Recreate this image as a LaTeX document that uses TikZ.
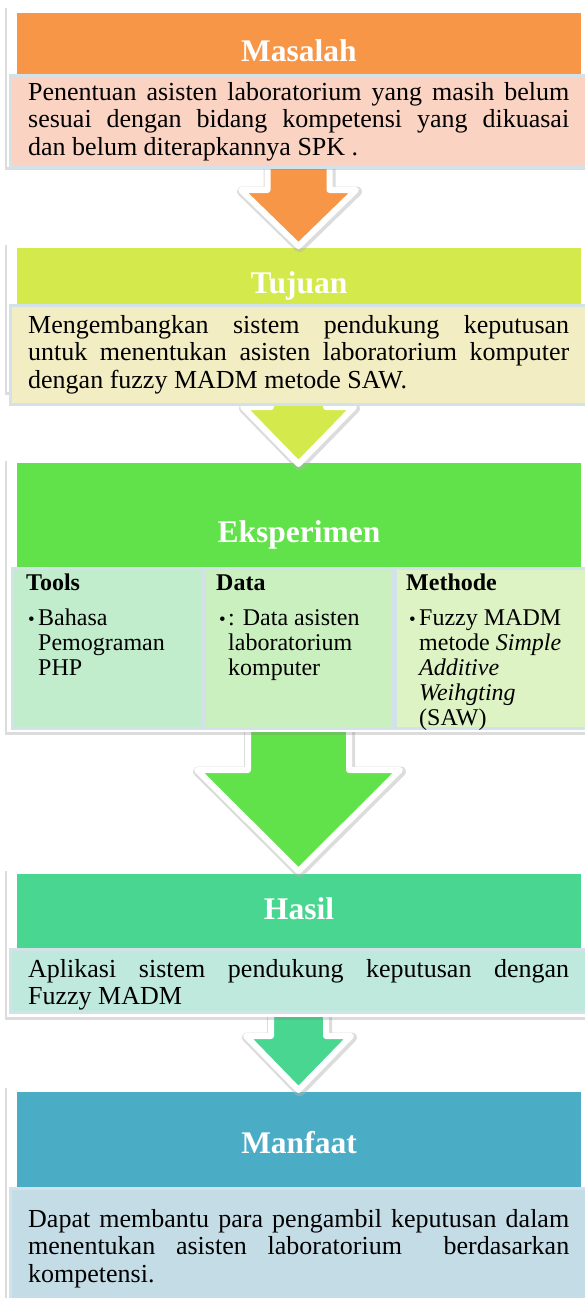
\documentclass[tikz,border=0pt]{standalone}
\usepackage{fontspec}
\setmainfont{Liberation Serif}
\usetikzlibrary{shadows}
\definecolor{hOrange}{HTML}{F79646}
\definecolor{hLime}{HTML}{D4EA4C}
\definecolor{hGreen}{HTML}{62E24A}
\definecolor{hTeal}{HTML}{48D690}
\definecolor{hBlue}{HTML}{4BACC6}
\definecolor{tSalmon}{HTML}{FAD3C3}
\definecolor{tCream}{HTML}{F3EDC4}
\definecolor{tMint}{HTML}{C2EDCC}
\definecolor{tPale}{HTML}{CBF0C0}
\definecolor{tLime}{HTML}{DDF3C4}
\definecolor{tAqua}{HTML}{C0E9DD}
\definecolor{tSky}{HTML}{C4DCE6}
\definecolor{boxline}{HTML}{D3E2E8}
\newcommand{\bul}{{\fontsize{19}{19}\selectfont •}}
\begin{document}
\begin{tikzpicture}[x=1pt,y=-1pt,
  frame/.style={fill=white,draw=none,inner sep=0,anchor=north west,
    drop shadow={shadow xshift=-2pt,shadow yshift=-3pt,opacity=0.28}},
  header/.style={draw=none,inner sep=0,anchor=north west,minimum width=564pt},
  tbox/.style={draw=boxline,line width=2.5pt,inner sep=0,anchor=north west},
  title/.style={anchor=base,text=white,inner sep=0,font=\fontsize{31.5}{36}\selectfont\bfseries},
  body/.style={anchor=north west,inner sep=0,text width=541pt,align=justify,font=\fontsize{26}{27.5}\selectfont},
  subhead/.style={anchor=north west,inner sep=0,align=left,font=\fontsize{24}{25}\selectfont\bfseries},
  subitem/.style={anchor=north west,inner sep=0,align=left,font=\fontsize{24}{25}\selectfont},
  barrow/.style={draw=white,line width=6pt,line join=round,
    preaction={draw=black!30,line width=10pt,line join=round,opacity=0.45,
      transform canvas={xshift=1pt,yshift=-1.5pt}}}
]
\useasboundingbox (0,0) rectangle (585,1298);

% ---------- Block 5: Manfaat ----------
\node[frame,minimum width=590pt,minimum height=220pt] (f5) at (7,1085) {};
\node[header,fill=hBlue,minimum height=95pt] (h5) at (17,1092) {};
\node[tbox,fill=tSky,minimum width=590pt,minimum height=115pt] (b5) at (9,1187) {};
\node[title] (m5) at (299,1153) {Manfaat};
\node[body] (x5) at (28,1207.75) {\strut\makebox[541pt][s]{Dapat membantu para pengambil keputusan dalam}\\
\makebox[541pt][s]{menentukan asisten laboratorium \ berdasarkan}\\
kompetensi.};

% arrow 4
\draw[barrow,fill=hTeal] (271,1010) -- (271,1036) -- (246,1036) -- (298.5,1090) -- (351,1036) -- (326,1036) -- (326,1010);

% ---------- Block 4: Hasil ----------
\node[frame,minimum width=590pt,minimum height=149pt] (f4) at (7,868) {};
\node[header,fill=hTeal,minimum height=74pt] (h4) at (17,874) {};
\node[tbox,fill=tAqua,minimum width=590pt,minimum height=63pt] (b4) at (9,948) {};
\node[title] (m4) at (299,919) {Hasil};
\node[body] (x4) at (28,957.75) {\strut\makebox[541pt][s]{Aplikasi sistem pendukung keputusan dengan}\\
Fuzzy MADM};

% arrow 3
\draw[barrow,fill=hGreen] (248,725) -- (248,770) -- (197,770) -- (298.5,871) -- (400,770) -- (349,770) -- (349,725);

% ---------- Block 3: Eksperimen ----------
\node[frame,minimum width=590pt,minimum height=274pt] (f3) at (7,458) {};
\node[header,fill=hGreen,minimum height=104pt] (h3) at (17,463) {};
\node[tbox,fill=tMint,minimum width=190pt,minimum height=160pt] (c1) at (11,567) {};
\node[tbox,fill=tPale,minimum width=189pt,minimum height=160pt] (c2) at (203,567) {};
\node[tbox,fill=tLime,minimum width=196pt,minimum height=160pt] (c3) at (394,567) {};
\node[title] (m3) at (299,542) {Eksperimen};

\node[subhead] (s1) at (26,572.5) {\strut Tools};
\node[subitem] (i1) at (28,607.5) {\strut\makebox[10pt][l]{\bul}Bahasa\\
\hspace*{10pt}Pemograman\\
\hspace*{10pt}PHP};

\node[subhead] (s2) at (216,572.5) {\strut Data};
\node[subitem] (i2) at (219,607.5) {\strut\makebox[9pt][l]{\bul}: Data asisten\\
\hspace*{9pt}laboratorium\\
\hspace*{9pt}komputer};

\node[subhead] (s3) at (406,572.5) {\strut Methode};
\node[subitem] (i3) at (409,607.5) {\strut\makebox[10pt][l]{\bul}Fuzzy MADM\\
\hspace*{10pt}metode \textit{Simple}\\
\hspace*{10pt}\textit{Additive}\\
\hspace*{10pt}\textit{Weihgting}\\
\hspace*{10pt}(SAW)};

% arrow 2
\draw[barrow,fill=hLime] (271,398) -- (271,407) -- (243,407) -- (298.5,464) -- (354,407) -- (326,407) -- (326,398);

% ---------- Block 2: Tujuan ----------
\node[frame,minimum width=590pt,minimum height=150pt] (f2) at (7,242) {};
\node[header,fill=hLime,minimum height=57pt] (h2) at (17,248) {};
\node[tbox,fill=tCream,minimum width=590pt,minimum height=99pt] (b2) at (9,304) {};
\node[title] (m2) at (299,293) {Tujuan};
\node[body] (x2) at (28,313.75) {\strut\makebox[541pt][s]{Mengembangkan sistem pendukung keputusan}\\
\makebox[541pt][s]{untuk menentukan asisten laboratorium komputer}\\
dengan fuzzy MADM metode SAW.};

% arrow 1
\draw[barrow,fill=hOrange] (267.5,162) -- (267.5,190) -- (241,190) -- (298.5,246) -- (356,190) -- (329.5,190) -- (329.5,162);

% ---------- Block 1: Masalah ----------
\node[frame,minimum width=590pt,minimum height=162pt] (f1) at (7,5) {};
\node[header,fill=hOrange,minimum height=61pt] (h1) at (17,13) {};
\node[tbox,fill=tSalmon,minimum width=590pt,minimum height=92pt] (b1) at (9,74) {};
\node[title] (m1) at (299,62) {Masalah};
\node[body] (x1) at (28,80.75) {\strut\makebox[541pt][s]{Penentuan asisten laboratorium yang masih belum}\\
\makebox[541pt][s]{sesuai dengan bidang kompetensi yang dikuasai}\\
dan belum diterapkannya SPK .};
\end{tikzpicture}
\end{document}
